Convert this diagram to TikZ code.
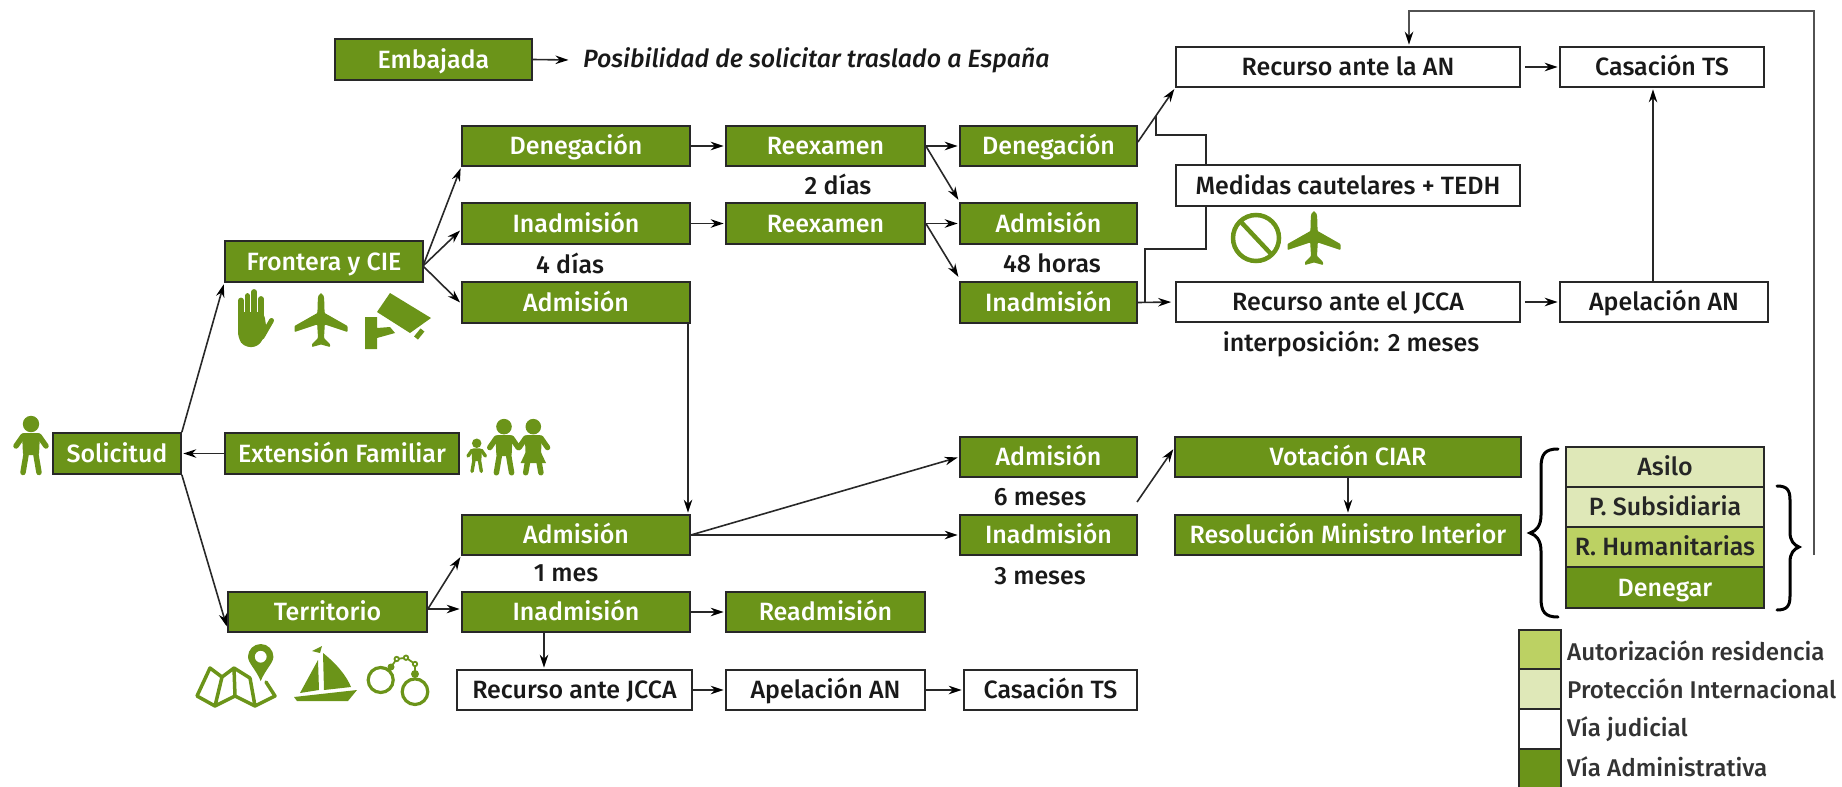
\documentclass[tikz,border=0pt]{standalone}
\usepackage{fontspec}
\setmainfont{Fira Sans}[UprightFont={* Medium},ItalicFont={* Medium Italic}]
\usetikzlibrary{arrows.meta,calc}
\definecolor{gr}{RGB}{107,148,25}
\definecolor{lg}{RGB}{223,232,184}
\definecolor{mg}{RGB}{188,209,99}
\definecolor{ln}{RGB}{40,40,40}
\newcommand{\fs}{\fontsize{25}{28}\selectfont}
\newcommand{\fl}{\fontsize{24.2}{28}\selectfont}
\def\limb{5.5pt}
\tikzset{
  base/.style={draw=ln,line width=1.7pt,inner sep=0pt,font=\fs,text height=18pt,text depth=0.5pt},
  adm/.style={base,fill=gr,text=white},
  jud/.style={base,fill=white,text=black!90},
  pint/.style={base,fill=lg,text=black!85},
  ares/.style={base,fill=mg,text=black!85},
  lab/.style={font=\fs,text=black!90},
  leg/.style={font=\fl,text=black!80,anchor=west,inner sep=0pt},
  arr/.style={line width=1.6pt,draw=ln,shorten >=1.5pt,-{Stealth[length=13pt,width=8.5pt,color=black]}},
  wire/.style={line width=1.6pt,draw=ln},
  brc/.style={line width=3pt,draw=black,line cap=round},
  iline/.style={draw=gr,line cap=round,line join=round},
  iconplane/.pic={\fill[gr,rounded corners=0.8pt] (0,0) .. controls (2,0) and (3,2) .. (3.2,6) -- (3.6,19) -- (26.5,32) -- (26.5,38) -- (3.8,30.5) -- (3,44) -- (9,50) -- (9,53) -- (0,50.5) -- (-9,53) -- (-9,50) -- (-3,44) -- (-3.8,30.5) -- (-26.5,38) -- (-26.5,32) -- (-3.6,19) -- (-3.2,6) .. controls (-3,2) and (-2,0) .. (0,0) -- cycle;},
  iconperson/.pic={
    \fill[gr] (0,-23) circle (8.2);
    \fill[gr,rounded corners=2pt] (-9,-14) -- (9,-14) -- (8,8) -- (-8,8) -- cycle;
    \draw[gr,line width=\limb,line cap=round] (-8,-11) -- (-15,-1) (8,-11) -- (15,-1) (-4.5,5) -- (-8,25.5) (4.5,5) -- (8,25.5);}
}
\newcommand{\bx}[7]{\node[#2,minimum width={(#5-#3)*1pt},minimum height={(#6-#4)*1pt}] (#1) at ({(#3+#5)/2},{(#4+#6)/2}) {#7};}
\begin{document}
\begin{tikzpicture}[x=1pt,y=-1pt]
\useasboundingbox (0,0) rectangle (1842,787);
\bx{emb}{adm}{335}{39}{532}{80}{Embajada}
\node[lab,anchor=west,inner sep=0pt,font=\fs\itshape] (pos) at (583,60) {Posibilidad de solicitar traslado a España};
\bx{deg1}{adm}{462}{126}{690}{166}{Denegación}
\bx{ree1}{adm}{726}{126}{925}{166}{Reexamen}
\bx{deg2}{adm}{960}{126}{1137}{166}{Denegación}
\bx{ina1}{adm}{462}{203}{690}{244}{Inadmisión}
\bx{ree2}{adm}{726}{203}{925}{244}{Reexamen}
\bx{adm2}{adm}{960}{203}{1137}{244}{Admisión}
\bx{adm1}{adm}{462}{282}{690}{323}{Admisión}
\bx{ina2}{adm}{960}{282}{1137}{323}{Inadmisión}
\bx{fro}{adm}{225}{241}{423}{282}{Frontera y CIE}
\bx{sol}{adm}{53}{433}{181}{474}{Solicitud}
\bx{ext}{adm}{225}{433}{459}{474}{Extensión Familiar}
\bx{ter}{adm}{228}{592}{427}{632}{Territorio}
\bx{adm3}{adm}{462}{515}{690}{555}{Admisión}
\bx{ina3}{adm}{462}{592}{690}{632}{Inadmisión}
\bx{rea}{adm}{726}{592}{925}{632}{Readmisión}
\bx{adm4}{adm}{960}{437}{1137}{477}{Admisión}
\bx{ina4}{adm}{960}{515}{1137}{555}{Inadmisión}
\bx{vot}{adm}{1175}{437}{1521}{477}{Votación CIAR}
\bx{res}{adm}{1175}{515}{1521}{555}{Resolución Ministro Interior}
\bx{ran}{jud}{1176}{47}{1520}{87}{Recurso ante la AN}
\bx{cas}{jud}{1560}{47}{1764}{87}{Casación TS}
\bx{med}{jud}{1176}{165}{1520}{206}{Medidas cautelares + TEDH}
\bx{rjc}{jud}{1176}{282}{1520}{322}{Recurso ante el JCCA}
\bx{ape}{jud}{1560}{282}{1768}{322}{Apelación AN}
\bx{rj2}{jud}{457}{670}{692}{710}{Recurso ante JCCA}
\bx{ap2}{jud}{726}{670}{925}{710}{Apelación AN}
\bx{ca2}{jud}{964}{670}{1137}{710}{Casación TS}
\bx{as}{pint}{1566}{447}{1764}{487}{Asilo}
\bx{ps}{pint}{1566}{487}{1764}{527}{P. Subsidiaria}
\bx{rh}{ares}{1566}{527}{1764}{567}{R. Humanitarias}
\bx{de}{adm}{1566}{567}{1764}{608}{Denegar}
\bx{l1}{ares}{1519}{630}{1561}{669}{}
\bx{l2}{pint}{1519}{669}{1561}{709}{}
\bx{l3}{jud}{1519}{709}{1561}{749}{}
\bx{l4}{adm}{1519}{749}{1561}{790}{}
\node[leg] (t1) at (1567,651) {Autorización residencia};
\node[leg] (t2) at (1567,689) {Protección Internacional};
\node[leg] (t3) at (1567,729) {Vía judicial};
\node[leg] (t4) at (1567,767) {Vía Administrativa};
\node[lab] (n1) at (838,184) {2 días};
\node[lab] (n2) at (570,263) {4 días};
\node[lab] (n3) at (1052,263) {48 horas};
\node[lab] (n4) at (1351,344) {interposición: 2 meses};
\node[lab] (n5) at (1040,497) {6 meses};
\node[lab] (n6) at (1040,576) {3 meses};
\node[lab] (n7) at (566,573) {1 mes};
\draw[arr] (emb.east) -- (pos.west-|570,0);
\draw[arr] (sol.north east) -- (fro.south west);
\draw[arr] (ext.west) -- (sol.east);
\draw[arr] (sol.south east) -- ([yshift=5pt]ter.south west);
\coordinate (fo) at (423,266);
\draw[arr] (fo) -- (deg1.south west);
\draw[arr] (fo) -- ([yshift=-6pt]ina1.west);
\draw[arr] (fo) -- ([yshift=-1pt]adm1.west);
\draw[arr] (deg1.east) -- (ree1.west);
\draw[arr] (ina1.east) -- (ree2.west);
\draw[arr] (ree1.east) -- (deg2.west);
\draw[arr] (ree1.east) -- ([yshift=1pt]adm2.north west);
\draw[arr] (ree2.east) -- (adm2.west);
\draw[arr] (ree2.east) -- ([yshift=3pt]ina2.north west);
\draw[arr] (adm1.south -| 688,0) -- (adm3.north -| 688,0);
\draw[arr] (adm3.east) -- (adm4.west);
\draw[arr] (adm3.east) -- (ina4.west);
\draw[arr] (ter.east) ++(0,-3) coordinate (te) -- (adm3.south west);
\draw[arr] (te) -- (ina3.west|-te);
\draw[arr] (ina3.east) -- (rea.west);
\draw[arr] (ina3.south -| 544,0) -- (rj2.north -| 544,0);
\draw[arr] (rj2.east) -- (ap2.west);
\draw[arr] (ap2.east) -- (ca2.west);
\draw[arr] ([yshift=4pt]deg2.east) -- (ran.south west);
\draw[arr] ([xshift=4pt]ran.east) -- (cas.west);
\draw[arr,shorten >=4pt] (ina2.east) -- (rjc.west);
\draw[arr] ([xshift=4pt]rjc.east) -- (ape.west);
\draw[arr] (ape.north -| 1653,0) -- (cas.south -| 1653,0);
\coordinate (vs) at (1137,502);
\draw[arr] (vs) -- ([yshift=9pt]vot.west);
\draw[arr] (vot.south -| 1348,0) -- (res.north -| 1348,0);
\coordinate (e1) at (1156,116);
\draw[wire] (e1) |- (1206,135) -- (med.north -| 1206,0);
\draw[wire] (med.south -| 1206,0) |- (1145,249) -- (1145,303);
\coordinate (e2) at (1814,555);
\draw[arr,draw=black!68,line width=2pt,line join=miter] (e2) |- (1409,11) -- (ran.north -| 1409,0);
\draw[brc] (1558,449) .. controls (1545,449) and (1541,454) .. (1541,468) -- (1541,515) .. controls (1541,526) and (1536,531) .. (1530,533) .. controls (1536,535) and (1541,540) .. (1541,551) -- (1541,598) .. controls (1541,612) and (1545,617) .. (1558,617);
\draw[brc] (1777,486) .. controls (1787,486) and (1790,490) .. (1790,500) -- (1790,532) .. controls (1790,541) and (1794,545) .. (1799,547) .. controls (1794,549) and (1790,553) .. (1790,562) -- (1790,596) .. controls (1790,606) and (1787,610) .. (1777,610);
\pic at (31,447) {iconperson};
\def\limb{3.4pt}
\pic at (476.7,456.6) [scale=0.58] {iconperson};
\def\limb{5.5pt}
\pic at (504,448.5) [scale=0.95] {iconperson};
\pic at (533.3,448.5) [scale=0.95] {iconperson};
\fill[gr] (533.3,436) -- (546,463) -- (520.6,463) -- cycle;
\pic at (321,294) {iconplane};
\pic at (1314,212) {iconplane};
\draw[iline,line width=5.8pt] (241,320) -- (241,300.5) (247.5,320) -- (247.5,296) (254.2,320) -- (254.2,292) (261,325) -- (261,299);
\fill[gr,rounded corners=6pt] (238,312) -- (264,312) -- (267,332) -- (258,347) -- (244,347) -- (238,338) -- cycle;
\draw[iline,line width=5pt] (262,337) -- (271.5,320.5);
\fill[gr] (390,293) -- (431,318) -- (410,333) -- (377,312) -- cycle;
\fill[gr] (365,317) -- (377,317) -- (377,328) -- (390,327) -- (395,333) -- (377,338) -- (377,349) -- (365,349) -- cycle;
\draw[gr,line width=5pt] (416,338) -- (422.5,330);
\draw[gr,line width=4.5pt] (1256,238) circle (23);
\draw[gr,line width=4.5pt] (1241,222) -- (1272,255);
\draw[iline,line width=3.5pt] (197,696) -- (210,668) -- (222,677) -- (234,668) -- (250,678) (197,696) -- (215,706) -- (235,696) -- (255,706) -- (275,696) -- (266,682) (215,706) -- (222,677) (235,696) -- (234,668) (255,706) -- (250,678);
\fill[white] (248,660) -- (273,660) -- (261,686) -- cycle;
\fill[gr,even odd rule] (260.7,681) .. controls (255.7,669) and (248,663) .. (248,656.7) arc (180:360:12.7) .. controls (273.4,663) and (265.7,669) .. (260.7,681) -- cycle (260.7,656.7) circle (6);
\fill[gr] (323,653) .. controls (338,665) and (347,677) .. (351,687) -- (324,690) -- cycle;
\fill[gr] (318,660) -- (300,693) -- (319,690) -- cycle;
\fill[gr] (312,651) -- (322,646) -- (320,653) -- cycle;
\fill[gr] (294,697) -- (357,690) -- (348,701) -- (297,701) -- cycle;
\draw[gr,line width=3.2pt] (380.7,680) circle (12.5) (415,691.7) circle (12.8);
\fill[gr] (391,667) circle (3.5) (415,674) circle (4);
\draw[gr,line width=1.8pt] (391,667) -- (396.7,659) -- (406,657.7) -- (415,664) -- (415,674);
\draw[gr,line width=1.8pt,fill=white] (396.7,659) circle (2.2) (406,657.7) circle (2.2) (415,664) circle (2.2);
\end{tikzpicture}
\end{document}
